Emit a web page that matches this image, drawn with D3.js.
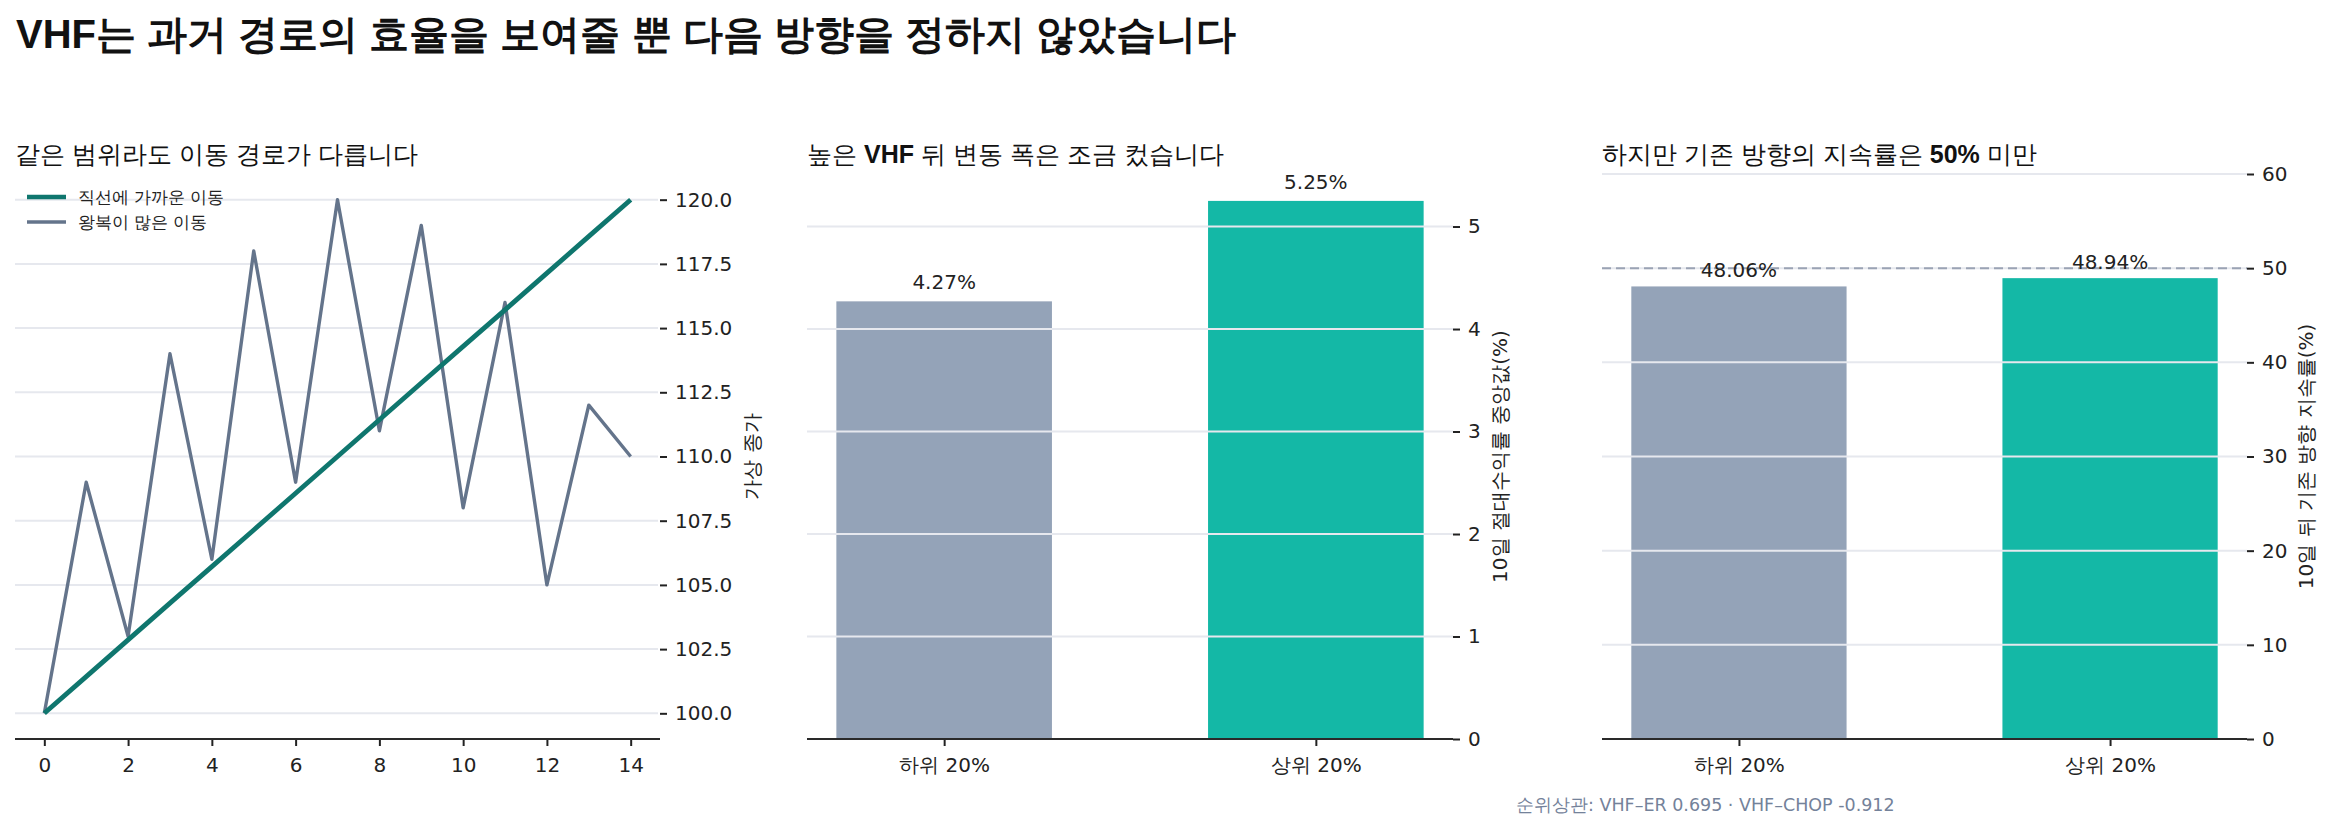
<!DOCTYPE html>
<html>
<head>
<meta charset="utf-8">
<script src="https://cdn.jsdelivr.net/npm/d3@7"></script>
<style>
  body { margin: 0; background: #fff; }
  svg { display: block; font-family: "DejaVu Sans"; }
  .ttl { font-family: "Liberation Sans"; }
</style>
</head>
<body>
<div id="chart"></div>
<script>
var w = 2331;
var h = 830;

// data
var days = [0, 1, 2, 3, 4, 5, 6, 7, 8, 9, 10, 11, 12, 13, 14];
var straightPath = [100, 101.43, 102.86, 104.29, 105.71, 107.14, 108.57, 110, 111.43, 112.86, 114.29, 115.71, 117.14, 118.57, 120];
var choppyPath = [100, 109, 103, 114, 106, 118, 109, 120, 111, 119, 108, 116, 105, 112, 110];
var priceTicks = [100, 102.5, 105, 107.5, 110, 112.5, 115, 117.5, 120];
var dayTicks = [0, 2, 4, 6, 8, 10, 12, 14];

var groups = ["하위 20%", "상위 20%"];
var absReturn = [4.27, 5.25];
var absTicks = [0, 1, 2, 3, 4, 5];
var persistRate = [48.06, 48.94];
var persistTicks = [0, 10, 20, 30, 40, 50, 60];

var colTeal = "#0f766e", colSlate = "#64748b";
var barColors = ["#94a3b8", "#14b8a6"];
var gridCol = "#e6e8ee", inkCol = "#222";

var plotTop = 174, plotBottom = 739;

var svg = d3.select("#chart").append("svg")
    .attr("width", w).attr("height", h)
    .style("background", "#fff");

// title
svg.append("text").attr("class", "ttl")
    .attr("x", 16).attr("y", 48)
    .attr("font-size", 40).attr("font-weight", "bold").attr("fill", "#111")
    .text("VHF는 과거 경로의 효율을 보여줄 뿐 다음 방향을 정하지 않았습니다");

function panelTitle(x, parts) {
    var t = svg.append("text").attr("class", "ttl").attr("x", x).attr("y", 163)
        .attr("font-size", 25).attr("fill", "#111");
    parts.forEach(p => {
        t.append("tspan").attr("font-weight", p[1] ? "bold" : "normal").text(p[0]);
    });
}

function drawAxes(x0, x1, x, y, xTicks, xFmt, yTicks, yFmt, label, labelX) {
    // right axis
    var ax = svg.append("g").attr("transform", "translate(" + x1 + ",0)")
        .call(d3.axisRight(y).tickValues(yTicks).tickFormat(yFmt).tickSize(7).tickPadding(8));
    ax.select(".domain").remove();
    ax.selectAll("line").attr("stroke", inkCol).attr("stroke-width", 2);
    ax.selectAll("text").attr("font-size", 20).attr("fill", inkCol)
        .attr("font-family", "DejaVu Sans");

    // bottom axis
    var bx = svg.append("g").attr("transform", "translate(0," + plotBottom + ")")
        .call(d3.axisBottom(x).tickValues(xTicks).tickFormat(xFmt).tickSize(7).tickPadding(12).tickSizeOuter(0));
    bx.select(".domain").remove();
    bx.selectAll("line").attr("stroke", inkCol).attr("stroke-width", 2);
    bx.selectAll("text").attr("font-size", 20).attr("fill", inkCol)
        .attr("font-family", "DejaVu Sans");
    svg.append("line").attr("x1", x0).attr("x2", x1).attr("y1", plotBottom).attr("y2", plotBottom)
        .attr("stroke", "#2a2a2a").attr("stroke-width", 2.2);

    svg.append("text")
        .attr("transform", "translate(" + labelX + "," + ((plotTop + plotBottom) / 2) + ") rotate(-90)")
        .attr("text-anchor", "middle").attr("dy", "0.35em")
        .attr("font-size", 20).attr("fill", inkCol).text(label);
}

function grid(x0, x1, y, ticks) {
    svg.append("g").selectAll("line").data(ticks).enter().append("line")
        .attr("x1", x0).attr("x2", x1)
        .attr("y1", d => y(d)).attr("y2", d => y(d))
        .attr("stroke", gridCol).attr("stroke-width", 2);
}

// ---------- panel 1: price paths ----------
(function () {
    var x0 = 15, x1 = 660;
    var x = d3.scaleLinear().domain([-0.7, 14.7]).range([x0, x1]);
    var y = d3.scaleLinear().domain([99, 121]).range([plotBottom, plotTop]);

    panelTitle(15, [["같은 범위라도 이동 경로가 다릅니다", false]]);
    grid(x0, x1 - 2, y, priceTicks);

    var line = d3.line().x((d, i) => x(days[i])).y(d => y(d));
    svg.append("path").datum(choppyPath).attr("d", line)
        .attr("fill", "none").attr("stroke", colSlate).attr("stroke-width", 3.4)
        .attr("stroke-linejoin", "round");
    svg.append("path").datum(straightPath).attr("d", line)
        .attr("fill", "none").attr("stroke", colTeal).attr("stroke-width", 4.8)
        .attr("stroke-linejoin", "round");

    drawAxes(x0, x1, x, y, dayTicks, d3.format("d"), priceTicks, d3.format(".1f"), "가상 종가", 752);

    // legend
    var legend = [["직선에 가까운 이동", colTeal, 4.5], ["왕복이 많은 이동", colSlate, 3.4]];
    legend.forEach((l, i) => {
        var ly = 197 + i * 25;
        svg.append("line").attr("x1", 27).attr("x2", 66).attr("y1", ly).attr("y2", ly)
            .attr("stroke", l[1]).attr("stroke-width", l[2]);
        svg.append("text").attr("x", 78).attr("y", ly).attr("dy", "0.35em")
            .attr("font-size", 16.5).attr("fill", inkCol).text(l[0]);
    });
})();

// ---------- bar panels ----------
function barPanel(x0, x1, values, yMax, yTicks, yFmt, title, label, labelX, labelGap, refLine) {
    var bw = 0.58;
    var pad = 0.05 * (1 + bw);
    var x = d3.scaleLinear().domain([-bw / 2 - pad, 1 + bw / 2 + pad]).range([x0, x1]);
    var y = d3.scaleLinear().domain([0, yMax]).range([plotBottom, plotTop]);
    var bwPx = x(bw) - x(0);

    panelTitle(x0, title);

    svg.append("g").selectAll("rect").data(values).enter().append("rect")
        .attr("x", (d, i) => x(i) - bwPx / 2)
        .attr("width", bwPx)
        .attr("y", d => y(d))
        .attr("height", d => plotBottom - y(d))
        .attr("fill", (d, i) => barColors[i]);

    grid(x0, x1, y, yTicks.filter(t => t > 0));

    if (refLine !== undefined) {
        svg.append("line").attr("x1", x0).attr("x2", x1)
            .attr("y1", y(refLine)).attr("y2", y(refLine))
            .attr("stroke", "#9aa3b4").attr("stroke-width", 2)
            .attr("stroke-dasharray", "9,5");
    }

    svg.append("g").selectAll("text").data(values).enter().append("text")
        .attr("x", (d, i) => x(i))
        .attr("y", d => y(d) - labelGap)
        .attr("text-anchor", "middle")
        .attr("font-size", 20).attr("fill", inkCol)
        .text(d => d.toFixed(2) + "%");

    drawAxes(x0, x1, x, y, [0, 1], i => groups[i], yTicks, yFmt, label, labelX);
}

barPanel(807, 1453, absReturn, 5.5125, absTicks, d3.format("d"),
    [["높은 ", false], ["VHF", true], [" 뒤 변동 폭은 조금 컸습니다", false]],
    "10일 절대수익률 중앙값(%)", 1500, 12);

barPanel(1602, 2247, persistRate, 60, persistTicks, d3.format("d"),
    [["하지만 기존 방향의 지속률은 ", false], ["50%", true], [" 미만", false]],
    "10일 뒤 기존 방향 지속률(%)", 2306, 9, 50);

// footnote
svg.append("text")
    .attr("x", 1516).attr("y", 811)
    .attr("font-size", 17.5).attr("fill", "#74829a")
    .text("순위상관: VHF–ER 0.695 · VHF–CHOP -0.912");
</script>
</body>
</html>
